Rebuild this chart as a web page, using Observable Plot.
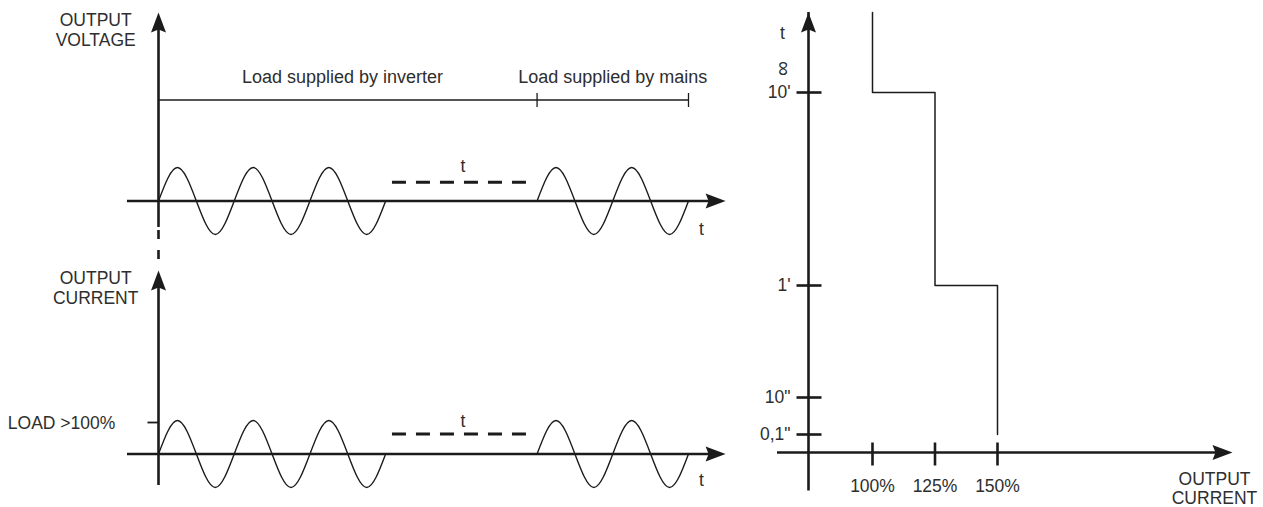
<!DOCTYPE html>
<html>
<head>
<meta charset="utf-8">
<script src="https://cdn.jsdelivr.net/npm/d3@7"></script>
<script src="https://cdn.jsdelivr.net/npm/@observablehq/plot@0.6"></script>
<style>
  body { margin: 0; background: #fff; }
  #root { position: relative; width: 1263px; height: 507px; overflow: hidden; background: #fff; }
  #root svg { position: absolute; }
</style>
</head>
<body>
<div id="root"></div>
<script>
// ---------------- DATA ----------------
// Waveforms sampled every quarter cycle (normalised amplitude)
const inverterWave = [0, 1, 0, -1, 0, 1, 0, -1, 0, 1, 0, -1, 0];   // 3 cycles on inverter
const mainsWave    = [0, 1, 0, -1, 0, 1, 0, -1, 0];                // 2 cycles on mains
const inverterStart = 0;      // cycles
const transferStart = 3;      // cycles (end of inverter supply)
const mainsStart    = 5;      // cycles (load switched to mains)
const mainsEnd      = 7;      // cycles
const loadLevelLabel = "LOAD >100%";
const supplyLabels = ["Load supplied by inverter", "Load supplied by mains"];

// Overload vs. time characteristic
const loadLevels      = [100, 125, 150];               // % of nominal output current
const loadTickLabels  = ["100%", "125%", "150%"];
const holdTimes       = [600, 60, 0.1];                // seconds tolerated above each level
const timeTicks       = [0.1, 10, 60, 600];            // seconds
const timeTickLabels  = ['0,1"', '10"', "1'", "10'"];
const INF = 1e4;                                       // stands for "∞" (unlimited)

// ---------------- STYLE ----------------
const INK = "#1b1b1b";
const TXT = "#2e2e2e";
const FONT = "Liberation Sans, Arial, Helvetica, sans-serif";
const FS = 17.5;
const AXW = 2.6;

const ARROW = { draw(c) { c.moveTo(0, 0); c.lineTo(-7.5, 20); c.lineTo(0, 17); c.lineTo(7.5, 20); c.closePath(); } };
function tickSym(a, b, horizontal) {
  return { draw(c) { if (horizontal) { c.moveTo(a, 0); c.lineTo(b, 0); } else { c.moveTo(0, a); c.lineTo(0, b); } } };
}
function wave(samples, start) { return samples.map((v, i) => ({ x: start + i * 0.25, y: v })); }
const svgStyle = { background: "transparent", fontFamily: FONT, overflow: "visible" };

function place(svg, left, top) {
  svg.style.left = left + "px";
  svg.style.top = top + "px";
  document.getElementById("root").appendChild(svg);
}

// ---------------- LEFT PANELS ----------------
function signalPanel({ height, label, labelY, axisTop, axisBottom, connector, loadTick, transferY, tY, endTY, bracket }) {
  const marks = [];
  marks.push(Plot.line(wave(inverterWave, inverterStart), { x: "x", y: "y", curve: "natural", stroke: INK, strokeWidth: 1.4 }));
  marks.push(Plot.line(wave(mainsWave, mainsStart), { x: "x", y: "y", curve: "natural", stroke: INK, strokeWidth: 1.4 }));
  marks.push(Plot.ruleY([0], { x1: -0.41, x2: 7.4, stroke: INK, strokeWidth: AXW }));
  marks.push(Plot.dot([{ x: 7.49, y: 0 }], { x: "x", y: "y", symbol: ARROW, rotate: 90, fill: INK, stroke: "none" }));
  marks.push(Plot.ruleX([0], { y1: axisBottom, y2: axisTop - 0.2, stroke: INK, strokeWidth: AXW }));
  marks.push(Plot.dot([{ x: 0, y: axisTop }], { x: "x", y: "y", symbol: ARROW, rotate: 0, fill: INK, stroke: "none" }));
  if (connector) {
    marks.push(Plot.ruleX([0], { y1: connector[0], y2: connector[1], stroke: INK, strokeWidth: AXW, strokeDasharray: "9,11" }));
  }
  if (loadTick !== undefined) {
    marks.push(Plot.dot([{ x: 0, y: loadTick }], { x: "x", y: "y", symbol: tickSym(-11, 0, true), fill: "none", stroke: INK, strokeWidth: 1.8 }));
    marks.push(Plot.text([loadLevelLabel], { x: -0.57, y: loadTick - 0.03, textAnchor: "end", fontSize: FS, fill: TXT }));
  }
  marks.push(Plot.ruleY([transferY], { x1: 3.09, x2: 4.91, stroke: INK, strokeWidth: 3, strokeDasharray: "14,10" }));
  marks.push(Plot.text(["t"], { x: 4.02, y: tY, fontSize: FS, fill: TXT }));
  marks.push(Plot.text(["t"], { x: 7.17, y: endTY, fontSize: FS, fill: TXT }));
  marks.push(Plot.text([label], { x: -0.83, y: labelY, fontSize: FS, lineHeight: 1.15, fill: TXT }));
  if (bracket) {
    marks.push(Plot.ruleY([bracket], { x1: inverterStart, x2: mainsEnd, stroke: INK, strokeWidth: 1.3 }));
    marks.push(Plot.dot([{ x: mainsStart, y: bracket }, { x: mainsEnd, y: bracket }], { x: "x", y: "y", symbol: tickSym(-7, 7, false), fill: "none", stroke: INK, strokeWidth: 1.3 }));
    marks.push(Plot.text(supplyLabels, { x: [2.43, 6.0], y: bracket + 0.67, fontSize: 18, fill: TXT }));
  }
  return Plot.plot({
    width: 740, height,
    margin: 0,
    style: svgStyle,
    x: { domain: [0, 7], range: [158, 688], axis: null },
    y: { domain: [-1, 1], range: [234, 167], axis: null },
    marks
  });
}

place(signalPanel({
  height: 272, label: "OUTPUT\nVOLTAGE", labelY: 5.13,
  axisTop: 5.63, axisBottom: -0.79, connector: [-0.88, -2.0],
  transferY: 0.56, tY: 1.03, endTY: -0.85, bracket: 3.015
}), 0, 0);

place(signalPanel({
  height: 254, label: "OUTPUT\nCURRENT", labelY: 4.96,
  axisTop: 5.48, axisBottom: -0.94, loadTick: 0.94,
  transferY: 0.60, tY: 0.97, endTY: -0.79
}), 0, 253);

// ---------------- RIGHT PANEL ----------------
// Non-uniform (schematic) time axis: seconds -> distance above the current axis
const timeAxis = d3.scaleLinear().domain([0, 0.1, 10, 60, 600, INF]).range([0, 18, 55, 167, 360, 440]);
const stepX = [loadLevels[0], ...loadLevels];
const stepY = [INF, ...holdTimes];
const stepData = stepX.map((x, i) => ({ x, y: stepY[i] }));
const Y_AXIS_X = 74.4;

place(Plot.plot({
  width: 523, height: 507,
  margin: 0,
  style: svgStyle,
  x: { domain: [100, 150], range: [132, 257], axis: null },
  y: { domain: [0, 440], range: [452, 12], transform: timeAxis, axis: null },
  marks: [
    Plot.line(stepData, { x: "x", y: "y", curve: "step-after", stroke: INK, strokeWidth: 1.5 }),
    Plot.ruleX([Y_AXIS_X], { y1: -0.17, y2: INF, insetTop: 8, stroke: INK, strokeWidth: AXW }),
    Plot.dot([{ x: Y_AXIS_X, y: INF }], { x: "x", y: "y", symbol: ARROW, rotate: 0, fill: INK, stroke: "none" }),
    Plot.ruleY([0], { x1: 62, x2: 242, stroke: INK, strokeWidth: AXW }),
    Plot.dot([{ x: 244, y: 0 }], { x: "x", y: "y", symbol: ARROW, rotate: 90, fill: INK, stroke: "none" }),
    Plot.dot(loadLevels, { x: d => d, y: 0, symbol: tickSym(-10, 13, false), fill: "none", stroke: INK, strokeWidth: AXW }),
    Plot.dot(timeTicks, { x: Y_AXIS_X, y: d => d, symbol: tickSym(-12, 13, true), fill: "none", stroke: INK, strokeWidth: AXW }),
    Plot.text(loadLevels, { x: d => d, y: 0, dy: 34, text: (d, i) => loadTickLabels[i], fontSize: FS, fill: TXT }),
    Plot.text(timeTicks, { x: Y_AXIS_X, y: d => d, dx: -18, text: (d, i) => timeTickLabels[i], textAnchor: "end", fontSize: FS, fill: TXT }),
    Plot.text(["∞"], { x: Y_AXIS_X, y: 600, dx: -25, dy: -24, rotate: 90, fontSize: 21, fill: TXT }),
    Plot.text(["t"], { x: Y_AXIS_X, y: INF, dx: -26, dy: 21, fontSize: FS, fill: TXT }),
    Plot.text(["OUTPUT\nCURRENT"], { x: 236.8, y: 0, dy: 36, fontSize: FS, lineHeight: 1.08, fill: TXT })
  ]
}), 740, 0);
</script>
</body>
</html>
